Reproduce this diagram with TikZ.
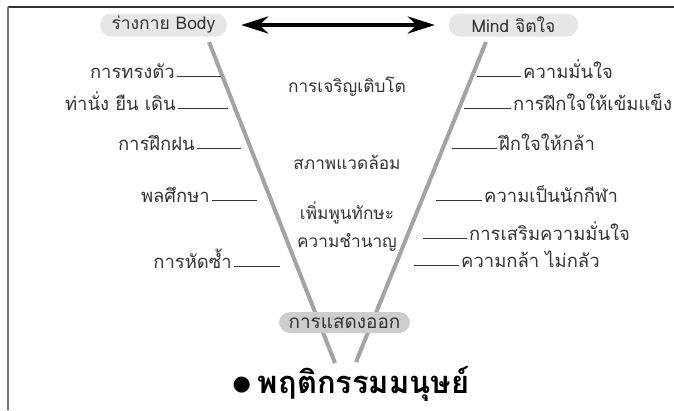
\documentclass[tikz,border=0pt]{standalone}
\usepackage{fontspec}
\usetikzlibrary{arrows.meta}
\newfontfamily\thaifont[Script=Thai]{Loma}
\newfontfamily\symfont{DejaVu Sans}
\definecolor{txt}{HTML}{333333}
\definecolor{vline}{HTML}{A3A3A3}
\definecolor{pilltop}{HTML}{E6E6E6}
\definecolor{pillbot}{HTML}{CDCDCD}
\tikzset{
  lbl/.style={font=\thaifont\fontsize{18.5}{20}\selectfont, text=txt, inner sep=2bp, text height=0.55em, text depth=0pt},
  ctr/.style={font=\thaifont\fontsize{17.3}{19}\selectfont, text=txt, inner sep=0bp},
  tick/.style={draw=txt, line width=0.9bp},
  vee/.style={draw=vline, line width=4bp},
  pill/.style={rounded corners=11bp, minimum height=23bp, inner sep=0bp, text=txt, font=\thaifont\fontsize{17.5}{19}\selectfont},
  frame/.style={line width=1.5bp}
}
\begin{document}
\begin{tikzpicture}[x=1bp,y=-1bp]
\useasboundingbox (0,0) rectangle (674,410);
% frame
\draw[frame, draw=black!80] (8,7) -- (674,7);
\draw[frame, draw=black!55] (8,7) -- (8,410);
% V lines
\coordinate (lt) at (209,42);
\coordinate (lb) at (335,363);
\coordinate (rt) at (486,42);
\coordinate (rb) at (356,362);
\draw[vee] (lt) -- (lb);
\draw[vee] (rt) -- (rb);
% pills
\node[pill, fill=pilltop, minimum width=127bp] (body) at (163.5,25) {ร่างกาย Body};
\node[pill, fill=pilltop, minimum width=129bp] (mind) at (513.5,25) {Mind จิตใจ};
\node[pill, fill=pillbot, minimum width=131bp, minimum height=21bp, font=\thaifont\fontsize{19}{20}\selectfont] (expr) at (344.5,322.5) {การแสดงออก};
% arrow
\draw[line width=4bp, {Stealth[length=27bp,width=17bp]}-{Stealth[length=27bp,width=17bp]}, shorten <=14bp, shorten >=14bp] (body) -- (mind);
% centre texts
\node[ctr] (c1) at (347,87) {การเจริญเติบโต};
\node[ctr] (c2) at (347,162) {สภาพแวดล้อม};
\node[ctr] (c3) at (347,213) {เพิ่มพูนทักษะ};
\node[ctr] (c4) at (347,242) {ความชำนาญ};
% left labels
\node[lbl, anchor=east] (b1) at (177,76) {การทรงตัว};
\coordinate (b1e) at (221,76);
\node[lbl, anchor=east] (b2) at (178,108) {ท่านั่ง ยืน เดิน};
\coordinate (b2e) at (228,108);
\node[lbl, anchor=east] (b3) at (197,148) {การฝึกฝน};
\coordinate (b3e) at (241,148);
\node[lbl, anchor=east] (b4) at (212,200) {พลศึกษา};
\coordinate (b4e) at (257,200);
\node[lbl, anchor=east] (b5) at (234,266) {การหัดซ้ำ};
\coordinate (b5e) at (280,266);
\foreach \n in {b1,b2,b3,b4,b5} \draw[tick] (\n) -- (\n e);
% right labels
\node[lbl, anchor=west] (m1) at (521,76) {ความมั่นใจ};
\coordinate (m1s) at (477,76);
\node[lbl, anchor=west] (m2) at (511,108) {การฝึกใจให้เข้มแข็ง};
\coordinate (m2s) at (464,108);
\node[lbl, anchor=west] (m3) at (497,148) {ฝึกใจให้กล้า};
\coordinate (m3s) at (452,148);
\node[lbl, anchor=west] (m4) at (482,200) {ความเป็นนักกีฬา};
\coordinate (m4s) at (436,200);
\node[lbl, anchor=west] (m5) at (467,238) {การเสริมความมั่นใจ};
\coordinate (m5s) at (423,238);
\node[lbl, anchor=west] (m6) at (459,265) {ความกล้า ไม่กลัว};
\coordinate (m6s) at (414,265);
\foreach \n in {m1,m2,m3,m4,m5,m6} \draw[tick] (\n s) -- (\n);
% title
\node[font=\thaifont\bfseries\fontsize{31}{34}\selectfont, text=black, inner sep=0bp] (title) at (351,384) {\raisebox{3bp}{\symfont\fontsize{21}{24}\selectfont ●}\hspace{7bp}พฤติกรรมมนุษย์};
\end{tikzpicture}
\end{document}
